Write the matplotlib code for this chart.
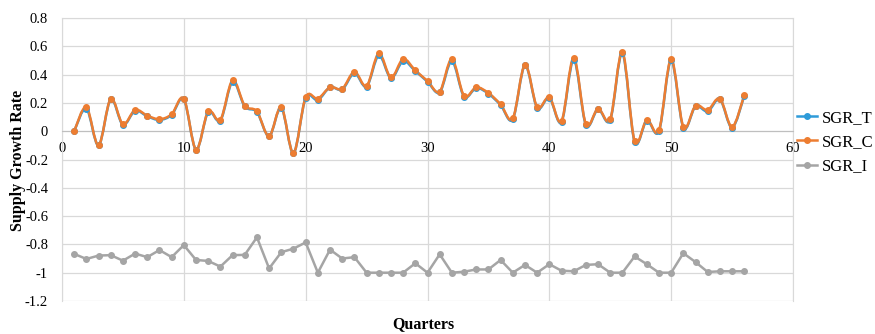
import numpy as np
import matplotlib
matplotlib.use("Agg")
import matplotlib.pyplot as plt
from matplotlib.path import Path
from matplotlib.patches import PathPatch
from matplotlib.lines import Line2D
from matplotlib.ticker import FuncFormatter

quarters = list(range(1, 57))

sgr_c = [0.00, 0.17, -0.10, 0.23, 0.05, 0.15, 0.11, 0.085, 0.12, 0.23,
         -0.13, 0.14, 0.08, 0.36, 0.18, 0.14, -0.035, 0.17, -0.155, 0.24,
         0.23, 0.31, 0.30, 0.42, 0.32, 0.55, 0.38, 0.51, 0.43, 0.355,
         0.28, 0.51, 0.25, 0.31, 0.27, 0.19, 0.09, 0.47, 0.17, 0.24,
         0.07, 0.52, 0.05, 0.16, 0.085, 0.56, -0.07, 0.08, 0.005, 0.51,
         0.03, 0.18, 0.15, 0.23, 0.03, 0.255]

sgr_t = [0.00, 0.16, -0.10, 0.225, 0.045, 0.145, 0.105, 0.08, 0.115, 0.225,
         -0.13, 0.135, 0.075, 0.35, 0.175, 0.135, -0.035, 0.165, -0.155, 0.235,
         0.22, 0.31, 0.295, 0.41, 0.315, 0.535, 0.375, 0.495, 0.425, 0.35,
         0.275, 0.495, 0.245, 0.305, 0.265, 0.185, 0.085, 0.465, 0.165, 0.235,
         0.065, 0.505, 0.045, 0.155, 0.08, 0.55, -0.075, 0.075, 0.00, 0.50,
         0.025, 0.175, 0.14, 0.225, 0.025, 0.25]

sgr_i = [-0.867, -0.903, -0.879, -0.876, -0.915, -0.865, -0.89, -0.84, -0.89, -0.805,
         -0.91, -0.917, -0.957, -0.876, -0.874, -0.75, -0.97, -0.855, -0.83, -0.786,
         -1.0, -0.837, -0.90, -0.89, -1.0, -1.0, -1.0, -1.0, -0.933, -1.0,
         -0.87, -1.0, -0.993, -0.977, -0.977, -0.91, -1.0, -0.945, -1.0, -0.94,
         -0.986, -0.99, -0.945, -0.94, -1.0, -1.0, -0.885, -0.94, -1.0, -1.0,
         -0.862, -0.925, -0.995, -0.99, -0.99, -0.99]

BLUE = "#2e9bd9"
ORANGE = "#ed7d31"
GREY = "#a5a5a5"
SERIF = ["Liberation Serif", "DejaVu Serif"]

plt.rcParams["font.family"] = SERIF


def smooth_path(x, y):
    # Catmull-Rom style bezier, like Excel's smoothed line
    pts = np.column_stack([x, y]).astype(float)
    ext = np.vstack([pts[0], pts, pts[-1]])
    verts = [pts[0]]
    codes = [Path.MOVETO]
    for i in range(1, len(ext) - 2):
        p0, p1, p2, p3 = ext[i - 1], ext[i], ext[i + 1], ext[i + 2]
        c1 = p1 + (p2 - p0) / 6.0
        c2 = p2 - (p3 - p1) / 6.0
        verts += [c1, c2, p2]
        codes += [Path.CURVE4] * 3
    return Path(verts, codes)


def fmt(v, pos):
    v = round(v, 1) + 0.0
    return "0" if v == 0 else "%g" % v


fig = plt.figure(figsize=(8.75, 3.34), dpi=100)
ax = fig.add_axes([62 / 875, 1 - 301 / 334, 731 / 875, 283 / 334])

for ys, c in [(sgr_t, BLUE), (sgr_c, ORANGE)]:
    ax.add_patch(PathPatch(smooth_path(quarters, ys), facecolor="none",
                           edgecolor=c, lw=1.8, zorder=3))
    ax.plot(quarters, ys, ls="none", marker="o", ms=4, color=c, zorder=4)

ax.plot(quarters, sgr_i, color=GREY, lw=1.8, marker="o", ms=4, zorder=3)

ax.set_xlim(0, 60)
ax.set_ylim(-1.2, 0.8)
ax.set_xticks(np.arange(0, 61, 10))
ax.set_yticks(np.arange(-1.2, 0.81, 0.2))
ax.yaxis.set_major_formatter(FuncFormatter(fmt))
ax.grid(True, color="#d9d9d9", lw=0.9)
ax.set_axisbelow(True)

for s in ["top", "right", "left"]:
    ax.spines[s].set_color("#d9d9d9")
ax.spines["bottom"].set_position(("data", 0))
ax.spines["bottom"].set_color("#bfbfbf")
ax.tick_params(axis="both", length=0, labelsize=10.5, colors="black")
ax.tick_params(axis="x", pad=8)
ax.tick_params(axis="y", pad=10)

fig.text(18 / 875, 1 - 160 / 334, "Supply Growth Rate", rotation=90,
         fontsize=11.5, fontweight="bold", ha="center", va="center")
fig.text(423 / 875, 1 - 324 / 334, "Quarters", fontsize=11.5,
         fontweight="bold", ha="center", va="center")

handles = [Line2D([], [], color=c, lw=1.8, marker="o", ms=4)
           for c in (BLUE, ORANGE, GREY)]
fig.legend(handles, ["SGR_T", "SGR_C", "SGR_I"], loc="center left",
           bbox_to_anchor=(797 / 875, 1 - 142 / 334), frameon=False,
           fontsize=12, handlelength=1.2, handletextpad=0.3,
           labelspacing=0.5, borderaxespad=0, borderpad=0)

fig.savefig("out.png", dpi=100)
